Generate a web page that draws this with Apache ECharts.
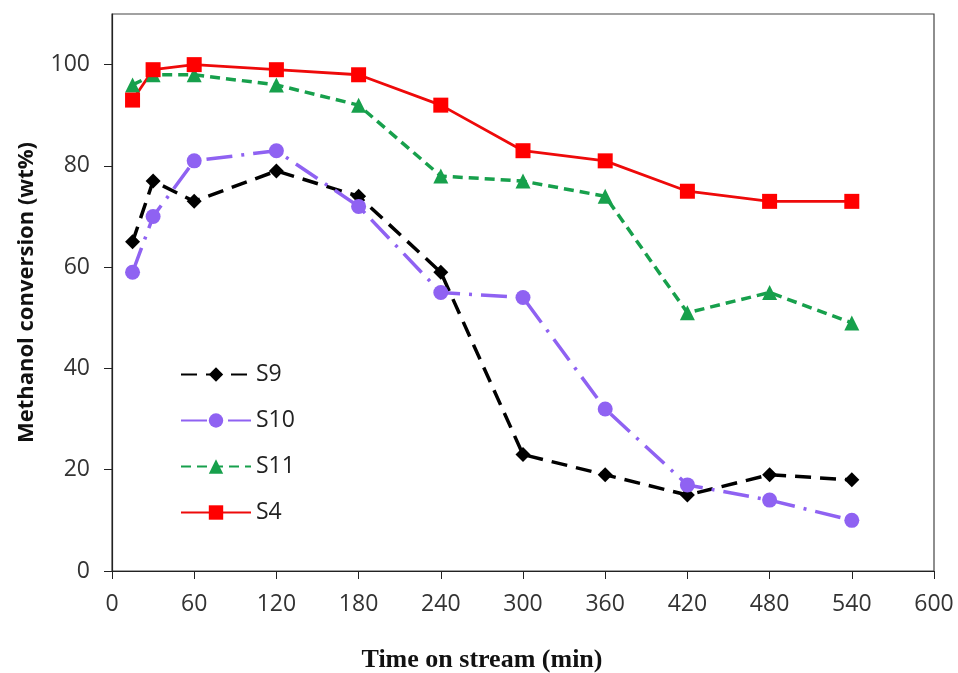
<!DOCTYPE html>
<html>
<head>
<meta charset="utf-8">
<script src="https://cdn.jsdelivr.net/npm/echarts@6/dist/echarts.min.js"></script>
<style>
html,body{margin:0;padding:0;background:#fff;}
#chart{width:958px;height:673px;}
</style>
</head>
<body>
<div id="chart"></div>
<script>
const times = [15, 30, 60, 120, 180, 240, 300, 360, 420, 480, 540];
const s9  = [65, 77, 73, 79, 74, 59, 23, 19, 15, 19, 18];
const s10 = [59, 70, 81, 83, 72, 55, 54, 32, 17, 14, 10];
const s11 = [96, 98, 98, 96, 92, 78, 77, 74, 51, 55, 49];
const s4  = [93, 99, 100, 99, 98, 92, 83, 81, 75, 73, 73];
const seriesNames = ['S9', 'S10', 'S11', 'S4'];

function pairs(vals){ return times.map((t,i)=>[t, vals[i]]); }

const chart = echarts.init(document.getElementById('chart'), null, {renderer:'canvas'});
const labelFont = '"Open Sans", "Noto Sans", sans-serif';
chart.setOption({
  animation: false,
  backgroundColor: '#fff',
  grid: {left: 112, right: 24, top: 14, bottom: 102, show: true, borderColor: '#444', borderWidth: 1.2,
         containLabel: false, outerBoundsMode: 'none'},
  legend: {
    orient: 'vertical', left: 175, top: 358, itemGap: 23, itemWidth: 70, itemHeight: 18,
    data: seriesNames,
    textStyle: {fontFamily: labelFont, fontSize: 23, color: '#222'}
  },
  xAxis: {
    type: 'value', min: 0, max: 600, interval: 60,
    name: 'Time on stream (min)', nameLocation: 'middle', nameGap: 76,
    nameTextStyle: {fontFamily: '"Liberation Serif", serif', fontWeight: 'bold', fontSize: 26, color: '#111', padding: [0, 82, 0, 0]},
    axisLine: {lineStyle: {color: '#222', width: 1.2}},
    axisTick: {show: true, inside: false, length: 8, lineStyle: {color: '#222'}},
    axisLabel: {fontFamily: labelFont, fontSize: 23, color: '#333', margin: 22},
    splitLine: {show: false}
  },
  yAxis: {
    type: 'value', min: 0, max: 110, interval: 20,
    name: 'Methanol conversion (wt%)', nameLocation: 'middle', nameGap: 74,
    nameTextStyle: {fontFamily: labelFont, fontWeight: 'bold', fontSize: 22, color: '#111'},
    axisLine: {show: true, lineStyle: {color: '#222', width: 1.2}},
    axisTick: {show: true, inside: false, length: 8, lineStyle: {color: '#222'}},
    axisLabel: {fontFamily: labelFont, fontSize: 23, color: '#333', margin: 22, showMaxLabel: false,
      formatter: v => (v > 100 ? '' : String(v))},
    splitLine: {show: false}
  },
  series: [
    {name: 'S9', type: 'line', data: pairs(s9), symbol: 'diamond', symbolSize: 15,
     itemStyle: {color: '#000'}, lineStyle: {color: '#000', width: 3.5, type: [16, 9]}},
    {name: 'S10', type: 'line', data: pairs(s10), symbol: 'circle', symbolSize: 15,
     itemStyle: {color: '#8f62f2'}, lineStyle: {color: '#8f62f2', width: 3.5, type: [26, 9, 3, 9]}},
    {name: 'S11', type: 'line', data: pairs(s11), symbol: 'triangle', symbolSize: 15,
     itemStyle: {color: '#17a04c'}, lineStyle: {color: '#17a04c', width: 3.5, type: [10, 6]}},
    {name: 'S4', type: 'line', data: pairs(s4), symbol: 'rect', symbolSize: 15,
     itemStyle: {color: '#ff0000'}, lineStyle: {color: '#ee0a0a', width: 2.8, type: 'solid'}}
  ]
});
</script>
</body>
</html>
